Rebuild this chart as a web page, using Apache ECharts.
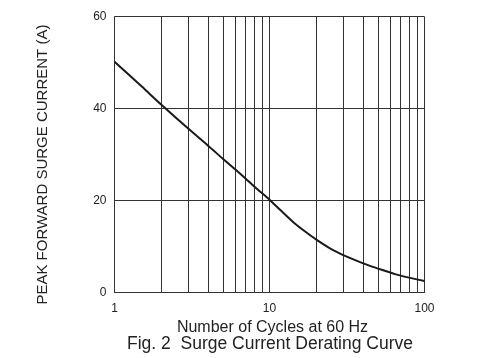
<!DOCTYPE html>
<html>
<head>
<meta charset="utf-8">
<script src="https://cdn.jsdelivr.net/npm/echarts@6/dist/echarts.min.js"></script>
<style>
html,body{margin:0;padding:0;background:#fff;}
#chart{width:500px;height:358px;}
</style>
</head>
<body>
<div id="chart"></div>
<script>
// Data
const cycles = [1, 1.5, 2, 3, 4, 5, 6, 7, 8, 10, 11.7, 14.25, 17.4, 20.5, 25.2, 31.5, 38.4, 44.5, 53.4, 64.5, 74.2, 100];
const surgeCurrent = [50.2, 44.8, 40.9, 35.6, 32.0, 29.1, 26.8, 24.8, 23.0, 20.2, 18.0, 15.3, 13.0, 11.3, 9.4, 7.8, 6.6, 5.8, 4.9, 4.0, 3.45, 2.5];
const minorGridX = [2, 3, 4, 5, 6, 7, 8, 9, 20, 30, 40, 50, 60, 70, 80, 90];
const yTicks = [0, 20, 40, 60];
const xTicks = [1, 10, 100];

const FONT = 'Liberation Sans, Arial, sans-serif';
const TXT = '#222';
const GRID = '#333';

const chart = echarts.init(document.getElementById('chart'), null, {renderer: 'canvas'});
chart.setOption({
  animation: false,
  backgroundColor: '#fff',
  title: {
    text: 'Fig. 2  Surge Current Derating Curve',
    left: 127,
    top: 335.5,
    padding: 0,
    textStyle: {fontFamily: FONT, fontSize: 17.5, fontWeight: 'normal', color: TXT}
  },
  grid: {left: 114.5, right: 75.5, top: 16.7, bottom: 65.5},
  xAxis: {
    type: 'log',
    logBase: 10,
    min: xTicks[0],
    max: xTicks[xTicks.length - 1],
    name: 'Number of Cycles at 60 Hz',
    nameLocation: 'middle',
    nameGap: 22,
    nameTextStyle: {fontFamily: FONT, fontSize: 16, color: TXT, padding: [0, 0, 0, 6]},
    axisLine: {show: true, lineStyle: {color: GRID, width: 1}},
    axisTick: {show: false},
    axisLabel: {fontFamily: FONT, fontSize: 12, color: TXT, margin: 10, formatter: v => String(v)},
    splitLine: {show: true, lineStyle: {color: GRID, width: 1}}
  },
  yAxis: {
    type: 'value',
    min: yTicks[0],
    max: yTicks[yTicks.length - 1],
    interval: 20,
    name: 'PEAK FORWARD SURGE CURRENT (A)',
    nameLocation: 'middle',
    nameGap: 64,
    nameTextStyle: {fontFamily: FONT, fontSize: 15, color: TXT, padding: [0, 20, 0, 0]},
    axisLine: {show: true, lineStyle: {color: GRID, width: 1}},
    axisTick: {show: false},
    axisLabel: {fontFamily: FONT, fontSize: 12, color: TXT, margin: 8},
    splitLine: {show: true, lineStyle: {color: GRID, width: 1}}
  },
  series: [
    {
      type: 'line',
      data: [],
      z: 1,
      silent: true,
      markLine: {
        silent: true,
        symbol: ['none', 'none'],
        label: {show: false},
        lineStyle: {color: GRID, width: 1, type: 'solid'},
        emphasis: {disabled: true},
        data: minorGridX.map(v => ({xAxis: v}))
      }
    },
    {
      type: 'line',
      z: 5,
      data: cycles.map((c, i) => [c, surgeCurrent[i]]),
      smooth: 0.3,
      showSymbol: false,
      symbol: 'none',
      lineStyle: {color: '#1a1a1a', width: 2}
    }
  ]
});
</script>
</body>
</html>
